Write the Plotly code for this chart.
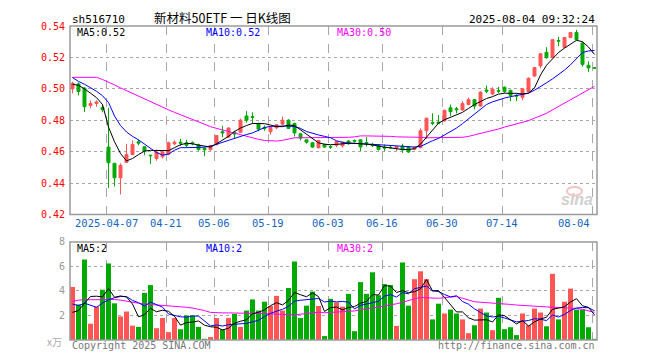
import plotly.graph_objects as go

# ---------------- data ----------------
open_ = [0.5000,0.5031,0.5004,0.4894,0.4906,0.4880,0.4629,0.4525,0.4433,0.4531,
         0.4581,0.4662,0.4631,0.4577,0.4556,0.4567,0.4583,0.4650,0.4660,0.4656,
         0.4656,0.4644,0.4620,0.4612,0.4644,0.4727,0.4692,0.4723,0.4723,0.4827,
         0.4823,0.4779,0.4754,0.4727,0.4752,0.4775,0.4800,0.4779,0.4713,0.4675,
         0.4656,0.4625,0.4646,0.4633,0.4640,0.4637,0.4667,0.4671,0.4675,0.4658,
         0.4646,0.4644,0.4627,0.4627,0.4621,0.4635,0.4629,0.4615,0.4625,0.4733,
         0.4785,0.4788,0.4796,0.4879,0.4873,0.4865,0.4900,0.4931,0.4890,0.4992,
         0.4967,0.4988,0.5010,0.4990,0.4958,0.4946,0.4981,0.5081,0.5146,0.5233,
         0.5198,0.5308,0.5264,0.5327,0.5358,0.5292,0.5150,0.5134]
high = [0.5045,0.5040,0.5010,0.4925,0.4927,0.4900,0.4879,0.4529,0.4525,0.4650,
        0.4671,0.4677,0.4635,0.4579,0.4613,0.4602,0.4663,0.4671,0.4681,0.4675,
        0.4665,0.4650,0.4625,0.4642,0.4705,0.4764,0.4755,0.4733,0.4810,0.4858,
        0.4850,0.4785,0.4767,0.4764,0.4775,0.4823,0.4806,0.4785,0.4719,0.4677,
        0.4660,0.4675,0.4650,0.4640,0.4667,0.4665,0.4673,0.4677,0.4680,0.4692,
        0.4656,0.4646,0.4644,0.4640,0.4633,0.4650,0.4635,0.4633,0.4748,0.4815,
        0.4844,0.4833,0.4866,0.4900,0.4885,0.4921,0.4944,0.4935,0.4983,0.5021,
        0.5010,0.5013,0.5015,0.4995,0.4969,0.5004,0.5073,0.5140,0.5227,0.5265,
        0.5315,0.5331,0.5329,0.5360,0.5375,0.5296,0.5175,0.5135]
low = [0.4970,0.4958,0.4852,0.4875,0.4886,0.4850,0.4369,0.4379,0.4327,0.4529,
       0.4577,0.4640,0.4577,0.4520,0.4542,0.4556,0.4577,0.4640,0.4636,0.4625,
       0.4640,0.4605,0.4571,0.4605,0.4640,0.4692,0.4688,0.4681,0.4718,0.4785,
       0.4777,0.4730,0.4733,0.4708,0.4744,0.4764,0.4744,0.4696,0.4671,0.4650,
       0.4625,0.4620,0.4623,0.4617,0.4629,0.4625,0.4644,0.4658,0.4604,0.4633,
       0.4629,0.4606,0.4604,0.4619,0.4604,0.4592,0.4592,0.4608,0.4620,0.4681,
       0.4769,0.4775,0.4790,0.4827,0.4844,0.4860,0.4895,0.4869,0.4885,0.4973,
       0.4960,0.4973,0.4973,0.4921,0.4921,0.4927,0.4975,0.5077,0.5131,0.5192,
       0.5196,0.5271,0.5258,0.5323,0.5308,0.5142,0.5108,0.5130]
close = [0.5035,0.4983,0.4886,0.4906,0.4916,0.4867,0.4529,0.4433,0.4513,0.4581,
         0.4646,0.4654,0.4604,0.4574,0.4598,0.4598,0.4656,0.4660,0.4654,0.4640,
         0.4650,0.4613,0.4612,0.4639,0.4702,0.4719,0.4750,0.4712,0.4800,0.4800,
         0.4818,0.4744,0.4748,0.4754,0.4771,0.4800,0.4748,0.4719,0.4686,0.4660,
         0.4629,0.4671,0.4629,0.4629,0.4664,0.4660,0.4650,0.4667,0.4629,0.4654,
         0.4638,0.4614,0.4623,0.4625,0.4631,0.4612,0.4598,0.4627,0.4733,0.4813,
         0.4781,0.4781,0.4863,0.4854,0.4867,0.4906,0.4931,0.4890,0.4979,0.4985,
         0.4998,0.4985,0.4983,0.4958,0.4954,0.5000,0.5067,0.5135,0.5223,0.5198,
         0.5313,0.5304,0.5327,0.5358,0.5313,0.5156,0.5133,0.5132]

ma5 = [0.5029,0.5022,0.5000,0.4972,0.4944,0.4900,0.4756,0.4663,0.4588,0.4541,
       0.4556,0.4581,0.4603,0.4608,0.4608,0.4606,0.4606,0.4625,0.4644,0.4653,
       0.4650,0.4641,0.4633,0.4629,0.4650,0.4675,0.4697,0.4728,0.4750,0.4766,
       0.4779,0.4779,0.4778,0.4769,0.4759,0.4759,0.4769,0.4766,0.4738,0.4709,
       0.4681,0.4656,0.4647,0.4644,0.4646,0.4650,0.4653,0.4653,0.4650,0.4648,
       0.4644,0.4634,0.4628,0.4622,0.4616,0.4613,0.4613,0.4619,0.4647,0.4694,
       0.4738,0.4781,0.4803,0.4819,0.4831,0.4850,0.4875,0.4900,0.4919,0.4938,
       0.4950,0.4966,0.4972,0.4973,0.4971,0.4967,0.4972,0.5006,0.5088,0.5150,
       0.5188,0.5231,0.5259,0.5284,0.5309,0.5300,0.5266,0.5219]
ma10 = [0.5072,0.5047,0.5029,0.5009,0.4984,0.4956,0.4913,0.4827,0.4766,0.4725,
        0.4697,0.4675,0.4647,0.4619,0.4594,0.4578,0.4584,0.4609,0.4625,0.4625,
        0.4625,0.4625,0.4628,0.4634,0.4647,0.4661,0.4672,0.4684,0.4698,0.4709,
        0.4719,0.4738,0.4753,0.4761,0.4763,0.4763,0.4763,0.4759,0.4748,0.4728,
        0.4716,0.4706,0.4697,0.4688,0.4669,0.4659,0.4654,0.4653,0.4650,0.4648,
        0.4646,0.4644,0.4642,0.4639,0.4638,0.4633,0.4631,0.4629,0.4633,0.4653,
        0.4669,0.4684,0.4706,0.4723,0.4750,0.4778,0.4809,0.4841,0.4875,0.4900,
        0.4917,0.4931,0.4941,0.4950,0.4956,0.4963,0.4972,0.4991,0.5013,0.5038,
        0.5063,0.5091,0.5119,0.5153,0.5194,0.5231,0.5241,0.5244]
ma30 = [0.5073,0.5073,0.5073,0.5073,0.5073,0.5059,0.5044,0.5025,0.5006,0.4988,
        0.4972,0.4956,0.4938,0.4919,0.4900,0.4881,0.4866,0.4850,0.4834,0.4819,
        0.4803,0.4788,0.4772,0.4759,0.4748,0.4738,0.4727,0.4716,0.4704,0.4694,
        0.4686,0.4678,0.4671,0.4667,0.4667,0.4672,0.4679,0.4688,0.4688,0.4688,
        0.4688,0.4688,0.4688,0.4688,0.4691,0.4691,0.4691,0.4694,0.4700,0.4700,
        0.4700,0.4700,0.4700,0.4697,0.4694,0.4694,0.4692,0.4691,0.4691,0.4688,
        0.4688,0.4688,0.4688,0.4691,0.4691,0.4691,0.4697,0.4706,0.4716,0.4725,
        0.4734,0.4744,0.4756,0.4766,0.4775,0.4788,0.4797,0.4813,0.4828,0.4844,
        0.4866,0.4888,0.4909,0.4931,0.4950,0.4972,0.4994,0.5016]

volume = [4.32,2.90,6.56,1.33,2.72,4.10,6.24,2.99,1.92,2.32,
          1.17,1.07,3.84,4.48,0.96,1.79,0.64,1.79,0.88,2.00,
          2.00,1.07,0.10,0.24,1.79,0.88,1.79,2.13,1.07,2.40,
          3.31,2.40,3.12,2.77,3.60,2.40,4.24,6.40,1.79,2.80,
          3.95,2.77,0.32,3.36,3.07,2.72,3.76,0.72,4.72,3.76,
          5.52,3.65,4.56,4.48,1.15,6.32,2.80,4.96,5.60,4.96,
          1.68,2.96,2.16,2.48,2.16,1.68,0.56,1.20,2.56,2.24,
          0.80,3.44,0.88,1.04,0.40,2.16,1.20,2.56,2.24,1.12,
          5.39,1.68,3.12,4.19,2.48,2.48,1.04,0.08]
vma5 = [2.25,2.40,3.00,3.55,3.57,3.52,4.19,3.48,3.59,3.51,
        2.93,1.89,2.06,2.58,2.30,2.43,2.34,1.93,1.21,1.42,
        1.46,1.55,1.21,1.08,1.04,0.82,0.96,1.37,1.53,1.65,
        2.14,2.26,2.46,2.80,3.04,2.86,3.23,3.88,3.69,3.53,
        3.84,3.54,2.33,2.64,2.69,2.45,2.65,2.73,3.00,3.14,
        3.70,3.67,4.44,4.39,3.87,4.03,3.86,3.94,4.17,4.93,
        4.00,4.03,3.47,2.85,2.29,2.29,1.81,1.62,1.63,1.65,
        1.47,2.05,1.98,1.68,1.31,1.58,1.14,1.47,1.71,1.86,
        2.50,2.60,2.71,3.10,3.37,2.79,2.66,2.05]
vma10 = [2.93,2.80,3.00,2.85,2.67,3.01,3.28,3.45,3.55,3.54,
         3.23,3.04,2.77,3.09,2.91,2.68,2.12,2.00,1.89,1.86,
         1.95,1.95,1.57,1.15,1.23,1.14,1.25,1.29,1.31,1.35,
         1.48,1.61,1.91,2.17,2.35,2.50,2.74,3.17,3.24,3.28,
         3.35,3.38,3.10,3.16,3.11,3.14,3.09,2.53,2.82,2.92,
         3.07,3.16,3.58,3.70,3.50,3.86,3.77,4.19,4.28,4.40,
         4.02,3.95,3.71,3.51,3.61,3.14,2.92,2.54,2.24,1.97,
         1.88,1.93,1.80,1.66,1.48,1.53,1.59,1.73,1.70,1.58,
         2.04,1.87,2.09,2.41,2.61,2.65,2.63,2.38]
vma30 = [3.15,3.25,3.28,3.28,3.28,3.28,3.33,3.30,3.25,3.15,
         3.07,3.00,2.93,2.90,2.87,2.83,2.80,2.77,2.70,2.67,
         2.60,2.53,2.40,2.25,2.21,2.21,2.21,2.21,2.21,2.21,
         2.21,2.21,2.15,2.13,2.13,2.10,2.07,2.05,2.10,2.13,
         2.20,2.27,2.22,2.25,2.27,2.30,2.32,2.37,2.47,2.57,
         2.62,2.68,2.80,2.88,2.95,3.10,3.20,3.35,3.47,3.45,
         3.42,3.40,3.45,3.50,3.55,3.40,3.25,3.12,3.08,3.05,
         3.02,3.00,2.95,2.90,2.85,2.83,2.82,2.80,2.75,2.70,
         2.67,2.65,2.62,2.60,2.58,2.50,2.38,2.25]

date_labels = ["2025-04-07", "04-21", "05-06", "05-19", "06-03",
               "06-16", "06-30", "07-14", "08-04"]
date_index = [6, 16, 24, 33, 43, 52, 62, 72, 87]

price_ticks = [0.42, 0.44, 0.46, 0.48, 0.50, 0.52, 0.54]
volume_ticks = [2, 4, 6, 8]

# ---------------- styling ----------------
RED = "#ff5555"
GREEN = "#00aa00"
GRID = "#a8a8a8"
FRAME = "#9a9a9a"
MONO = "DejaVu Sans Mono, Liberation Mono, monospace"
N = len(close)
xs = list(range(N))
half = 2.5 / 6.0
grid_x = [i - half for i in date_index]

# the page body has an 8px margin: the figure is shrunk by it so that the
# picture lands on the same pixels as the reference
OFF = 8
W, H = 660 - OFF, 360 - OFF
L, R, T, B = 70 - OFF, 63, 20 - OFF, 20
PW, PH = W - L - R, H - T - B


def px(x):  # reference page pixel -> paper x
    return (x - OFF - L) / PW


def py(y):  # reference page pixel -> paper y
    return (H - B - (y - OFF)) / PH


vol_colors = [RED if c >= o else GREEN for o, c in zip(open_, close)]

fig = go.Figure()
fig.add_trace(go.Candlestick(
    x=xs, open=open_, high=high, low=low, close=close,
    increasing=dict(line=dict(color=RED, width=1), fillcolor=RED),
    decreasing=dict(line=dict(color=GREEN, width=1), fillcolor=GREEN),
    whiskerwidth=0, hoverinfo="skip", xaxis="x", yaxis="y", showlegend=False))
for vals, col in ((ma30, "#ff00ff"), (ma10, "#0000ff"), (ma5, "#000000")):
    fig.add_trace(go.Scatter(x=xs, y=vals, mode="lines", line=dict(color=col, width=1),
                             hoverinfo="skip", showlegend=False, xaxis="x", yaxis="y"))

fig.add_trace(go.Bar(x=xs, y=volume, marker=dict(color=vol_colors, line=dict(width=0)),
                     width=5 / 6, hoverinfo="skip", showlegend=False,
                     xaxis="x2", yaxis="y2"))
for vals, col in ((vma30, "#ff00ff"), (vma10, "#0000ff"), (vma5, "#000000")):
    fig.add_trace(go.Scatter(x=xs, y=vals, mode="lines", line=dict(color=col, width=1),
                             hoverinfo="skip", showlegend=False, xaxis="x2", yaxis="y2"))

xcommon = dict(range=[-half, N - 1 + half], showticklabels=False, ticks="",
               tickvals=grid_x, showgrid=True, gridcolor=GRID, griddash="dash",
               gridwidth=1, zeroline=False, showline=False, fixedrange=True)

fig.update_layout(
    width=W, height=H, margin=dict(l=L, r=R, t=T, b=B),
    paper_bgcolor="white", plot_bgcolor="white", boxgap=0.3,
    xaxis=dict(domain=[0, 1], anchor="y", rangeslider=dict(visible=False), **xcommon),
    xaxis2=dict(domain=[0, 1], anchor="y2", **xcommon),
    yaxis=dict(domain=[py(212), 1], range=[0.42, 0.54], tickvals=price_ticks,
               ticktext=[f"{v:.2f}" for v in price_ticks],
               tickfont=dict(family=MONO, size=10, color="#ff0000"),
               showgrid=True, gridcolor=GRID, griddash="dot", gridwidth=1,
               zeroline=False, showline=False, ticks="", ticklabelstandoff=4),
    yaxis2=dict(domain=[0, py(240)], range=[0, 8], tickvals=volume_ticks,
                ticktext=[str(v) for v in volume_ticks],
                tickfont=dict(family=MONO, size=10, color="#999999"),
                showgrid=True, gridcolor=GRID, griddash="dot", gridwidth=1,
                zeroline=False, showline=False, ticks="", ticklabelstandoff=4),
    font=dict(family=MONO, size=10, color="#000"),
)

# frames
for xr, yr in (("x domain", "y domain"), ("x2 domain", "y2 domain")):
    fig.add_shape(type="rect", xref=xr, yref=yr, x0=0, x1=1, y0=0, y1=1,
                  line=dict(color=FRAME, width=1.5), layer="above")

# faint sina eye logo
fig.add_shape(type="circle", xref="paper", yref="paper",
              x0=px(567), x1=px(582), y0=py(193), y1=py(184),
              line=dict(color="#f4c4c4", width=2), fillcolor="rgba(0,0,0,0)",
              layer="below")

ann = []


def text(x, y, s, color="#000", size=10, xanchor="left", family=MONO, xref="paper"):
    ann.append(dict(x=x, y=y, xref=xref, yref="paper", text=s, showarrow=False,
                    xanchor=xanchor, yanchor="middle",
                    font=dict(family=family, size=size, color=color)))


text(px(70), py(13), "sh516710", size=11)
text(px(222), py(11.5), "新材料50ETF 一 日K线图", size=12.5, xanchor="center",
     family="Noto Sans CJK SC, sans-serif")
text(px(597), py(13), "2025-08-04 09:32:24", size=11, xanchor="right")

text(px(75), py(27), f"MA5:{ma5[-1]:.2f}")
text(px(204), py(27), f"MA10:{ma10[-1]:.2f}", color="#0000ff")
text(px(335), py(27), f"MA30:{ma30[-1]:.2f}", color="#ff00ff")

text(px(75), py(247), f"MA5:{vma5[-1]:.0f}")
text(px(204), py(247), f"MA10:{vma10[-1]:.0f}", color="#0000ff")
text(px(335), py(247), f"MA30:{vma30[-1]:.0f}", color="#ff00ff")

for k, (lab, idx) in enumerate(zip(date_labels, date_index)):
    anchor = "right" if k == len(date_labels) - 1 else "center"
    text(idx - half, py(221), lab, color="#1565c0", size=10.5, xanchor=anchor, xref="x")

text(px(64), py(342), "x万", color="#aaaaaa", size=10, xanchor="right",
     family="Noto Sans CJK SC, sans-serif")
text(px(70), py(346), "Copyright 2025 SINA.COM", color="#777777", size=10)
text(px(597), py(346), "http://finance.sina.com.cn", color="#777777", size=10,
     xanchor="right")
text(px(577), py(197), "<b><i>sina</i></b>", color="#d0d0d0", size=16,
     xanchor="center", family="Liberation Sans, sans-serif")

fig.update_layout(annotations=ann)
fig.write_html("out.html")
